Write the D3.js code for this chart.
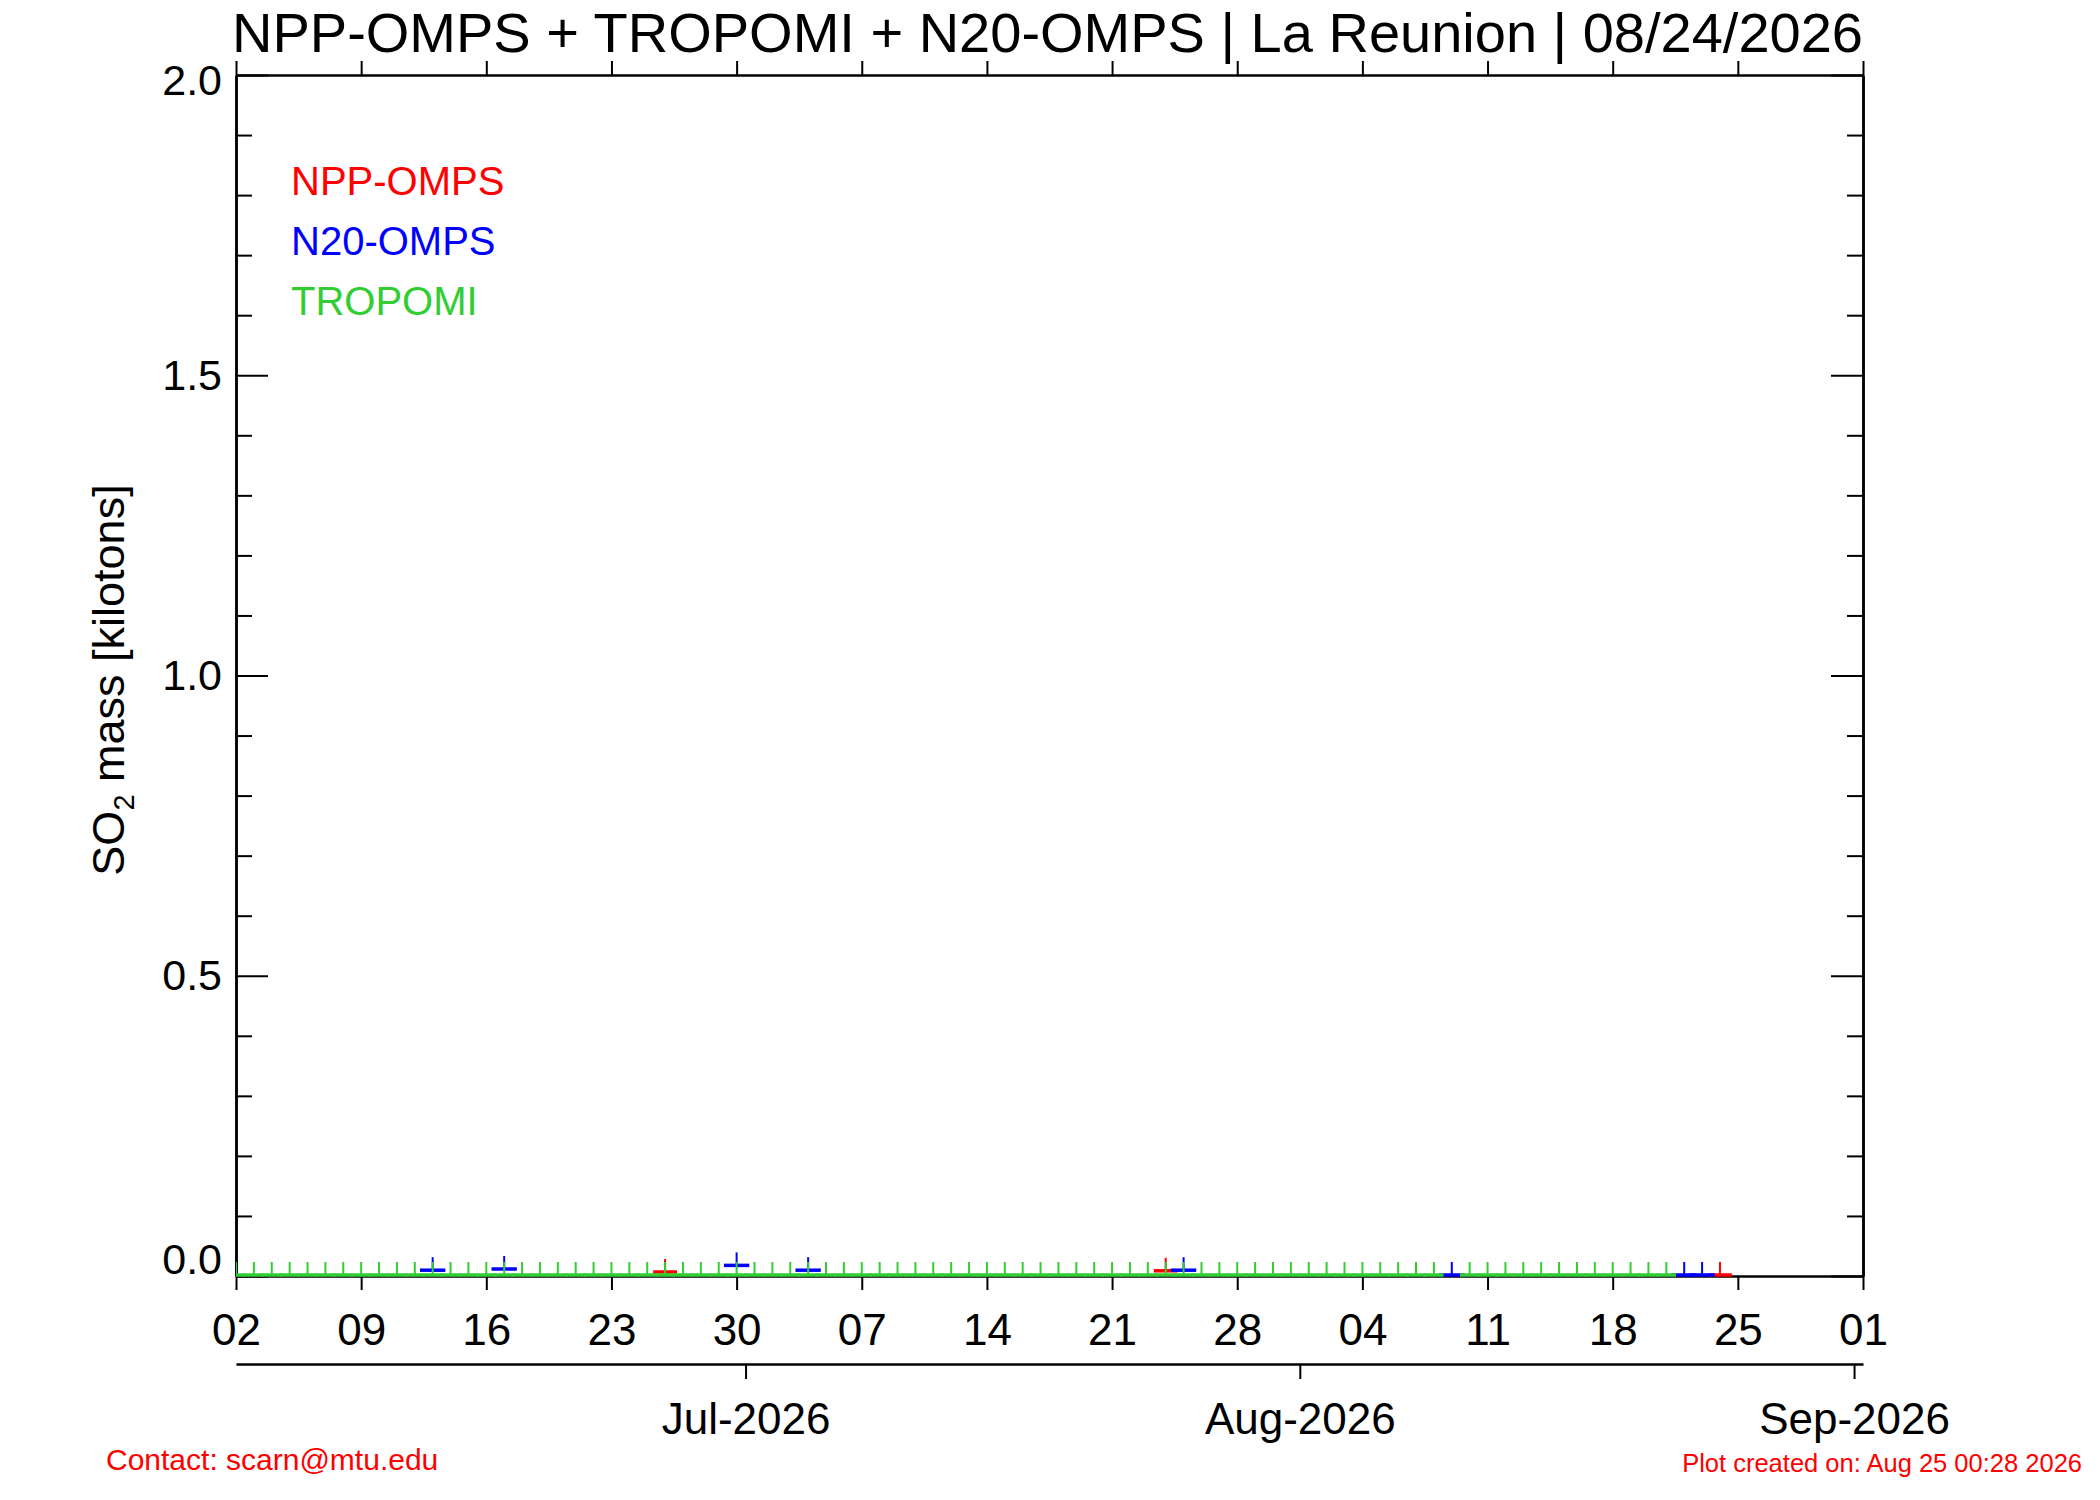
<!DOCTYPE html>
<html>
<head>
<meta charset="utf-8">
<script src="https://cdnjs.cloudflare.com/ajax/libs/d3/7.8.5/d3.min.js"></script>
<style>
  body { margin: 0; background: #fff; }
  text { font-family: "Liberation Sans", Arial, Helvetica, sans-serif; }
</style>
</head>
<body>
<svg id="chart"></svg>
<script>
// ---- data ----
var titleText = "NPP-OMPS + TROPOMI + N20-OMPS | La Reunion | 08/24/2026";
var yTitle = ["SO", "2", " mass [kilotons]"];
var dateStart = "2026-06-02", dateEnd = "2026-09-01";
var yMajorTicks = [0.0, 0.5, 1.0, 1.5, 2.0];
var yMinorTicks = [0.1, 0.2, 0.3, 0.4, 0.6, 0.7, 0.8, 0.9, 1.1, 1.2, 1.3, 1.4, 1.6, 1.7, 1.8, 1.9];
var monthTicks = ["2026-07-01", "2026-08-01", "2026-09-01"];
var seriesNames = ["NPP-OMPS", "N20-OMPS", "TROPOMI"];
var seriesColors = ["#ff0000", "#0000ff", "#32cd32"];

var nppDates = ["2026-06-26", "2026-07-24", "2026-08-24"];
var nppMass = [0.005, 0.007, 0.0];

var n20Dates = ["2026-06-13", "2026-06-17", "2026-06-30", "2026-07-04", "2026-07-25", "2026-08-09", "2026-08-22", "2026-08-23"];
var n20Mass = [0.008, 0.01, 0.016, 0.008, 0.008, 0.0, 0.0, 0.0];

// TROPOMI: one value per day, 2026-06-02 .. 2026-08-21 (Aug 09 missing)
var tropomiFirst = "2026-06-02", tropomiLast = "2026-08-21";
var tropomiMass = [
  0, 0, 0, 0, 0, 0, 0, 0, 0, 0,
  0, 0, 0, 0, 0, 0, 0, 0, 0, 0,
  0, 0, 0, 0, 0, 0, 0, 0, 0, 0,
  0, 0, 0, 0, 0, 0, 0, 0, 0, 0,
  0, 0, 0, 0, 0, 0, 0, 0, 0, 0,
  0, 0, 0, 0, 0, 0, 0, 0, 0, 0,
  0, 0, 0, 0, 0, 0, 0, 0, null, 0,
  0, 0, 0, 0, 0, 0, 0, 0, 0, 0,
  0
];

var footLeft = "Contact: scarn@mtu.edu";
var footRight = "Plot created on: Aug 25 00:28 2026";

// ---- layout ----
var W = 2100, H = 1500;
var plotL = 236, plotR = 1863, plotT = 75, plotB = 1276;

var parse = d3.utcParse("%Y-%m-%d");
var svg = d3.select('#chart').attr('width', W).attr('height', H);
svg.append('rect').attr('width', W).attr('height', H).attr('fill', '#fff');

var x = d3.scaleUtc().domain([parse(dateStart), parse(dateEnd)]).range([plotL, plotR]);
var y = d3.scaleLinear().domain([0, 2]).range([plotB, plotT]);

var weekTicks = d3.utcTuesday.range(x.domain()[0], d3.utcDay.offset(x.domain()[1], 1));

function styleAxis(g, fs) {
  g.select('.domain').attr('stroke', '#000').attr('stroke-width', 2.5);
  g.selectAll('.tick line').attr('stroke', '#000').attr('stroke-width', 2);
  g.selectAll('.tick text').attr('fill', '#000').style('font-size', fs + 'px')
    .style('font-family', '"Liberation Sans", Arial, Helvetica, sans-serif');
}

// series
svg.append('clipPath').attr('id', 'plotclip')
  .append('rect').attr('x', plotL).attr('y', plotT - 20)
  .attr('width', plotR - plotL).attr('height', plotB - plotT + 24);

var tropomiDates = d3.utcDay.range(parse(tropomiFirst), d3.utcDay.offset(parse(tropomiLast), 1));
var series = [
  { dates: nppDates.map(parse), mass: nppMass, color: seriesColors[0], half: 16 },
  { dates: n20Dates.map(parse), mass: n20Mass, color: seriesColors[1], half: 17 },
  { dates: tropomiDates, mass: tropomiMass, color: seriesColors[2], half: 13 }
];

var dataG = svg.append('g').attr('clip-path', 'url(#plotclip)');

// axes
var axBottom = svg.append('g').attr('transform', 'translate(0,' + plotB + ')')
  .call(d3.axisBottom(x).tickValues(weekTicks).tickFormat(d3.utcFormat('%d'))
    .tickSize(14).tickSizeOuter(0).tickPadding(24));
styleAxis(axBottom, 44);

var axTop = svg.append('g').attr('transform', 'translate(0,' + plotT + ')')
  .call(d3.axisTop(x).tickValues(weekTicks).tickFormat('').tickSize(14).tickSizeOuter(0));
styleAxis(axTop, 44);

var axLeft = svg.append('g').attr('transform', 'translate(' + plotL + ',0)')
  .call(d3.axisLeft(y).tickValues(yMajorTicks).tickFormat(d3.format('.1f'))
    .tickSize(-32).tickSizeOuter(0).tickPadding(14));
styleAxis(axLeft, 43);
axLeft.selectAll('.tick text')
  .attr('dy', function (d) { return d === 0 ? '-0.05em' : (d === 2 ? '0.46em' : '0.32em'); });
var axLeftMinor = svg.append('g').attr('transform', 'translate(' + plotL + ',0)')
  .call(d3.axisLeft(y).tickValues(yMinorTicks).tickFormat('').tickSize(-16).tickSizeOuter(0));
styleAxis(axLeftMinor, 43);

var axRight = svg.append('g').attr('transform', 'translate(' + plotR + ',0)')
  .call(d3.axisRight(y).tickValues(yMajorTicks).tickFormat('').tickSize(-32).tickSizeOuter(0));
styleAxis(axRight, 43);
var axRightMinor = svg.append('g').attr('transform', 'translate(' + plotR + ',0)')
  .call(d3.axisRight(y).tickValues(yMinorTicks).tickFormat('').tickSize(-16).tickSizeOuter(0));
styleAxis(axRightMinor, 43);

// month axis (ticks sit half a day before each month start)
var axMonth = svg.append('g').attr('transform', 'translate(0,1364)')
  .call(d3.axisBottom(x)
    .tickValues(monthTicks.map(function (m) { return d3.utcHour.offset(parse(m), -12); }))
    .tickFormat(function (d) { return d3.utcFormat('%b-%Y')(d3.utcHour.offset(d, 12)); })
    .tickSize(15).tickSizeOuter(0).tickPadding(24));
styleAxis(axMonth, 44);

// data drawn over the frame
series.forEach(function (s) {
  var pts = s.dates.map(function (d, i) { return { date: d, v: s.mass[i] }; })
    .filter(function (p) { return p.v !== null; });
  var g = dataG.append('g');
  g.selectAll('.seg').data(pts).enter().append('line')
    .attr('class', 'seg')
    .attr('x1', function (p) { return x(d3.utcHour.offset(p.date, -s.half)); })
    .attr('x2', function (p) { return x(d3.utcHour.offset(p.date, s.half)); })
    .attr('y1', function (p) { return y(p.v) - 1; })
    .attr('y2', function (p) { return y(p.v) - 1; })
    .attr('stroke', s.color).attr('stroke-width', 3.5);
  g.selectAll('.stk').data(pts).enter().append('line')
    .attr('class', 'stk')
    .attr('x1', function (p) { return x(p.date); })
    .attr('x2', function (p) { return x(p.date); })
    .attr('y1', function (p) { return y(p.v) - 1; })
    .attr('y2', function (p) { return y(p.v) - 14; })
    .attr('stroke', s.color).attr('stroke-width', 2);
});
dataG.raise();

// title
svg.append('text').attr('x', plotL - 4).attr('y', 52)
  .style('font-size', '56px').attr('fill', '#000').text(titleText);

// y title
var yt = svg.append('text').attr('transform', 'translate(124,680) rotate(-90)')
  .attr('text-anchor', 'middle').style('font-size', '45px').attr('fill', '#000');
yt.append('tspan').text(yTitle[0]);
yt.append('tspan').attr('dy', 10).style('font-size', '29px').text(yTitle[1]);
yt.append('tspan').attr('dy', -10).text(yTitle[2]);

// legend
svg.selectAll('.legend').data(seriesNames).enter().append('text')
  .attr('class', 'legend')
  .attr('x', 291)
  .attr('y', function (d, i) { return 195 + i * 60; })
  .style('font-size', '40px')
  .attr('fill', function (d, i) { return seriesColors[i]; })
  .text(function (d) { return d; });

// footer
svg.append('text').attr('x', 106).attr('y', 1470).style('font-size', '30px')
  .attr('fill', '#ff0000').text(footLeft);
svg.append('text').attr('x', 2082).attr('y', 1472).attr('text-anchor', 'end')
  .style('font-size', '25.5px').attr('fill', '#ff0000').text(footRight);
</script>
</body>
</html>
